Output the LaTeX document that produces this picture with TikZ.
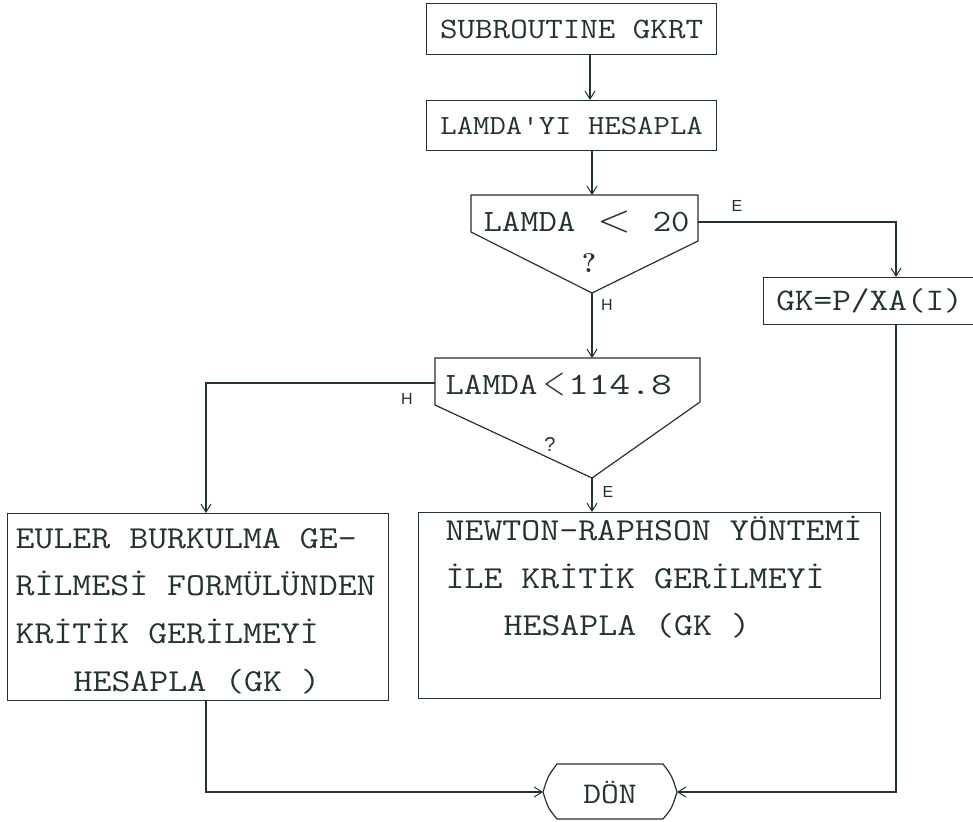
\documentclass[tikz,border=0pt]{standalone}
\usepackage{fontspec}
\setsansfont{Liberation Sans}
\usetikzlibrary{arrows.meta}
\definecolor{ink}{RGB}{35,52,46}
\newcommand\tw[1]{\scalebox{1.15}[1]{#1}}
\newcommand\ltsym[2]{\scalebox{#1}[#2]{\fontsize{10}{10}\selectfont$<$}}
\begin{document}
\begin{tikzpicture}[x=1pt,y=1pt,line width=1.2pt,color=ink,
  arr/.style={-{Straight Barb[length=8pt,width=10pt,line width=1pt]}},
  box/.style={draw,rectangle,inner sep=0pt,anchor=north west},
  fs/.style={font=\ttfamily\fontsize{#1}{#1}\selectfont},
  ln/.style={anchor=base west,inner sep=0pt,font=\ttfamily\fontsize{32}{32}\selectfont},
  lbl/.style={inner sep=0pt,font=\sffamily\fontsize{16}{16}\selectfont},
]
\useasboundingbox[fill=white] (0,0) rectangle (973,-821);

% boxes
\node[box,minimum width=290,minimum height=51,fs=29.6] (b1) at (426,-3) {\tw{SUBROUTINE GKRT}};
\node[box,minimum width=290,minimum height=50,fs=27.7] (b2) at (426,-100) {\tw{LAMDA\textquotesingle YI HESAPLA}};
\node[box,minimum width=212,minimum height=47,fs=31.5] (gk) at (763,-277) {\tw{GK=P/XA(I)}};
\node[box,minimum width=381,minimum height=187] (eu) at (7,-513) {};
\node[box,minimum width=462,minimum height=186] (nw) at (418,-512) {};

% decision 1
\draw (471,-195) -- (698,-195) -- (698,-241) -- (592,-293) coordinate (d1b) -- (471,-232) -- cycle;
\coordinate (d1top) at (592,-195);
\coordinate (d1right) at (698,-222);
\node[anchor=base west,inner sep=0pt,fs=31] (d1t) at (483,-231)
  {\tw{LAMDA}\hspace{22pt}\raisebox{0pt}{\ltsym{4.3}{3.8}}\hspace{22pt}\tw{20}};
\node[inner sep=0pt,font=\rmfamily\bfseries\fontsize{27}{27}\selectfont] (q1) at (589,-263) {?};

% decision 2
\draw (435,-358) -- (700,-358) -- (700,-402) -- (592,-478) coordinate (d2b) -- (435,-405) -- cycle;
\coordinate (d2top) at (592,-358);
\coordinate (d2left) at (435,-383);
\node[anchor=base west,inner sep=0pt,fs=31] (d2t) at (445,-394)
  {\tw{LAMDA}\hspace{6pt}\raisebox{0pt}{\ltsym{2.8}{4}}\hspace{3pt}\scalebox{1.3}[1]{114.8}};
\node[inner sep=0pt,font=\sffamily\fontsize{20}{20}\selectfont] (q2) at (550,-445) {?};

% texts of the big boxes
\node[ln] (eu1) at (15,-548) {\tw{EULER BURKULMA GE-}};
\node[ln] (eu2) at (15,-595) {\tw{RİLMESİ FORMÜLÜNDEN}};
\node[ln] (eu3) at (15,-643) {\tw{KRİTİK GERİLMEYİ}};
\node[ln] (eu4) at (73,-691) {\tw{HESAPLA (GK )}};
\node[ln] (nw1) at (445,-540) {\tw{NEWTON-RAPHSON YÖNTEMİ}};
\node[ln] (nw2) at (445,-588) {\tw{İLE KRİTİK GERİLMEYİ}};
\node[ln] (nw3) at (503,-635) {\tw{HESAPLA (GK )}};

% terminal
\coordinate (donL) at (543,-792);
\coordinate (donR) at (677,-792);
\draw (557,-764) -- (663,-764) .. controls (672,-776) .. (donR) .. controls (672,-808) .. (663,-819)
  -- (557,-819) .. controls (548,-808) .. (donL) .. controls (548,-776) .. cycle;
\node[inner sep=0pt,fs=30] (don) at (610,-792) {\tw{DÖN}};

% labels
\node[lbl] (e1) at (737,-206) {E};
\node[lbl] (h1) at (607,-305) {H};
\node[lbl] (h2) at (407,-399) {H};
\node[lbl] (e2) at (608,-492) {E};

% connectors
\coordinate (c1) at (590,0);
\coordinate (c2) at (896,0);
\coordinate (c3) at (206,0);
\draw[arr] (c1 |- b1.south) -- (c1 |- b2.north);
\draw[arr] (b2.south -| d1top) -- (d1top);
\draw[arr] (d1b) -- (d2top);
\draw[arr] (d1right) -| (c2 |- gk.north);
\draw[arr] (c2 |- gk.south) |- (donR);
\draw[arr] (d2left) -| (c3 |- eu.north);
\draw[arr] (d2b) -- (d2b |- nw.north);
\draw[arr] (c3 |- eu.south) |- (donL);
\end{tikzpicture}
\end{document}
